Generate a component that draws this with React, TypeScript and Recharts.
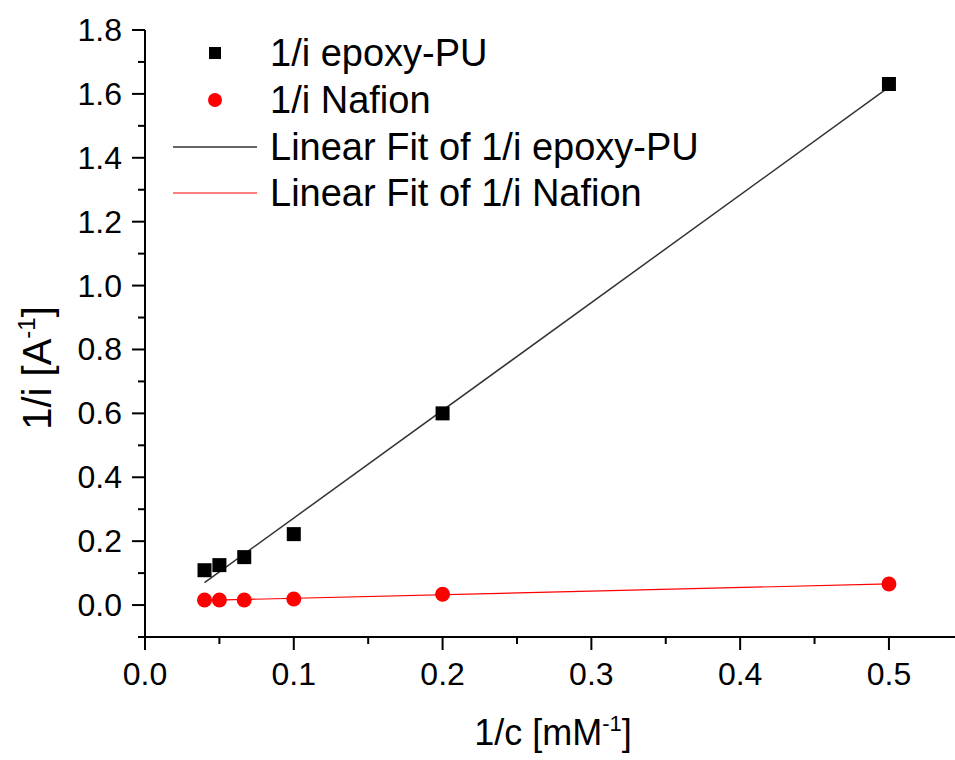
import React from "react";
import { ComposedChart, XAxis, YAxis, Scatter, Line, Legend, Label } from "recharts";

const xValues = [0.04, 0.05, 0.0667, 0.1, 0.2, 0.5];
const epoxyValues = [0.109, 0.125, 0.15, 0.222, 0.6, 1.631];
const nafionValues = [0.016, 0.016, 0.016, 0.019, 0.034, 0.066];
const fitX = [0.04, 0.5];
const epoxyFit = [0.07, 1.621];
const nafionFit = [0.0145, 0.066];
const xMajorTicks = [0, 0.1, 0.2, 0.3, 0.4, 0.5];
const xMinorTicks = [0.05, 0.15, 0.25, 0.35, 0.45];
const yMajorTicks = [0, 0.2, 0.4, 0.6, 0.8, 1.0, 1.2, 1.4, 1.6, 1.8];
const yMinorTicks = [-0.1, 0.1, 0.3, 0.5, 0.7, 0.9, 1.1, 1.3, 1.5, 1.7];
const seriesNames = ["1/i epoxy-PU", "1/i Nafion", "Linear Fit of 1/i epoxy-PU", "Linear Fit of 1/i Nafion"];

const epoxyData = xValues.map((x, i) => ({ x, y: epoxyValues[i] }));
const nafionData = xValues.map((x, i) => ({ x, y: nafionValues[i] }));
const epoxyFitData = fitX.map((x, i) => ({ x, y: epoxyFit[i] }));
const nafionFitData = fitX.map((x, i) => ({ x, y: nafionFit[i] }));
const xTicks = [...xMajorTicks, ...xMinorTicks].sort((a, b) => a - b);
const yTicks = [...yMajorTicks, ...yMinorTicks].sort((a, b) => a - b);

const FONT = "'Liberation Sans', Arial, sans-serif";
const isMajor = (v: number, step: number) => Math.abs(Math.round(v / step) * step - v) < 1e-6;

const XTick = (props: any) => {
  const { x, y, payload } = props;
  const v = payload.value;
  const major = isMajor(v, 0.1);
  return (
    <g>
      <line x1={x} x2={x} y1={y} y2={y + (major ? 13 : 7)} stroke="#000" strokeWidth={2} />
      {major && (
        <text x={x} y={y + 48} textAnchor="middle" fontSize={32} fontFamily={FONT} fill="#000">
          {v.toFixed(1)}
        </text>
      )}
    </g>
  );
};

const YTick = (props: any) => {
  const { x, y, payload } = props;
  const v = payload.value;
  const major = isMajor(v, 0.2);
  return (
    <g>
      <line x1={x - (major ? 13 : 7)} x2={x} y1={y} y2={y} stroke="#000" strokeWidth={2} />
      {major && (
        <text x={x - 23} y={y + 11} textAnchor="end" fontSize={32} fontFamily={FONT} fill="#000">
          {v.toFixed(1)}
        </text>
      )}
    </g>
  );
};

const XTitle = (props: any) => {
  const vb = props.viewBox;
  const cx = vb.x + vb.width / 2 + 3;
  const by = vb.y + 108;
  return (
    <text x={cx} y={by} textAnchor="middle" fontSize={36} fontFamily={FONT} fill="#000">
      <tspan>1/c [mM</tspan>
      <tspan fontSize={22} dy={-14}>-1</tspan>
      <tspan dy={14}>]</tspan>
    </text>
  );
};

const YTitle = () => {
  const cx = 51;
  const cy = 368;
  return (
    <text x={cx} y={cy} textAnchor="middle" fontSize={40} fontFamily={FONT} fill="#000" transform={`rotate(-90, ${cx}, ${cy})`}>
      <tspan>1/i [A</tspan>
      <tspan fontSize={24} dy={-16}>-1</tspan>
      <tspan dy={16}>]</tspan>
    </text>
  );
};

const Square = (props: any) => {
  const { cx, cy } = props;
  if (cx == null || cy == null) return null;
  return <rect x={cx - 7} y={cy - 7} width={14} height={14} fill="#000" />;
};

const Dot = (props: any) => {
  const { cx, cy } = props;
  if (cx == null || cy == null) return null;
  return <circle cx={cx} cy={cy} r={7.5} fill="#ff0000" />;
};

const LegendContent = () => {
  const rowY = [33, 80, 127, 173];
  const textX = 110;
  return (
    <svg width={600} height={200} style={{ overflow: "visible" }}>
      <rect x={49} y={rowY[0] - 6} width={12} height={12} fill="#000" />
      <circle cx={55} cy={rowY[1]} r={7} fill="#ff0000" />
      <line x1={13} x2={97} y1={rowY[2]} y2={rowY[2]} stroke="#333" strokeWidth={1.5} />
      <line x1={13} x2={97} y1={rowY[3]} y2={rowY[3]} stroke="#ff0000" strokeWidth={1.2} />
      {seriesNames.map((n, i) => (
        <text key={n} x={textX} y={rowY[i] + 13} fontSize={38} fontFamily={FONT} fill="#000">
          {n}
        </text>
      ))}
    </svg>
  );
};

export default function App() {
  return (
    <div style={{ position: "absolute", left: 0, top: 0, background: "#fff" }}>
      <ComposedChart width={955} height={760} margin={{ top: 30, right: 0, bottom: 0, left: 0 }}>
        <XAxis
          type="number"
          dataKey="x"
          domain={[0, 0.5444]}
          ticks={xTicks}
          interval={0}
          height={123}
          tickSize={0}
          tickMargin={0}
          tickLine={false}
          tick={<XTick />}
          axisLine={{ stroke: "#000", strokeWidth: 2 }}
          allowDataOverflow
        >
          <Label content={<XTitle />} />
        </XAxis>
        <YAxis
          type="number"
          dataKey="y"
          domain={[-0.1, 1.8]}
          ticks={yTicks}
          interval={0}
          width={145}
          tickSize={0}
          tickMargin={0}
          tickLine={false}
          tick={<YTick />}
          axisLine={{ stroke: "#000", strokeWidth: 2 }}
          allowDataOverflow
        >
          <Label content={<YTitle />} />
        </YAxis>
        <Legend
          layout="vertical"
          align="center"
          verticalAlign="middle"
          content={<LegendContent />}
          wrapperStyle={{ position: "absolute", left: 160, top: 20, width: 600, height: 200 }}
        />
        <Line
          data={epoxyFitData}
          dataKey="y"
          type="linear"
          stroke="#333"
          strokeWidth={1.5}
          dot={false}
          activeDot={false}
          isAnimationActive={false}
          name={seriesNames[2]}
        />
        <Line
          data={nafionFitData}
          dataKey="y"
          type="linear"
          stroke="#ff0000"
          strokeWidth={1.2}
          dot={false}
          activeDot={false}
          isAnimationActive={false}
          name={seriesNames[3]}
        />
        <Scatter data={epoxyData} dataKey="y" shape={<Square />} isAnimationActive={false} name={seriesNames[0]} />
        <Scatter data={nafionData} dataKey="y" shape={<Dot />} isAnimationActive={false} name={seriesNames[1]} />
      </ComposedChart>
    </div>
  );
}
